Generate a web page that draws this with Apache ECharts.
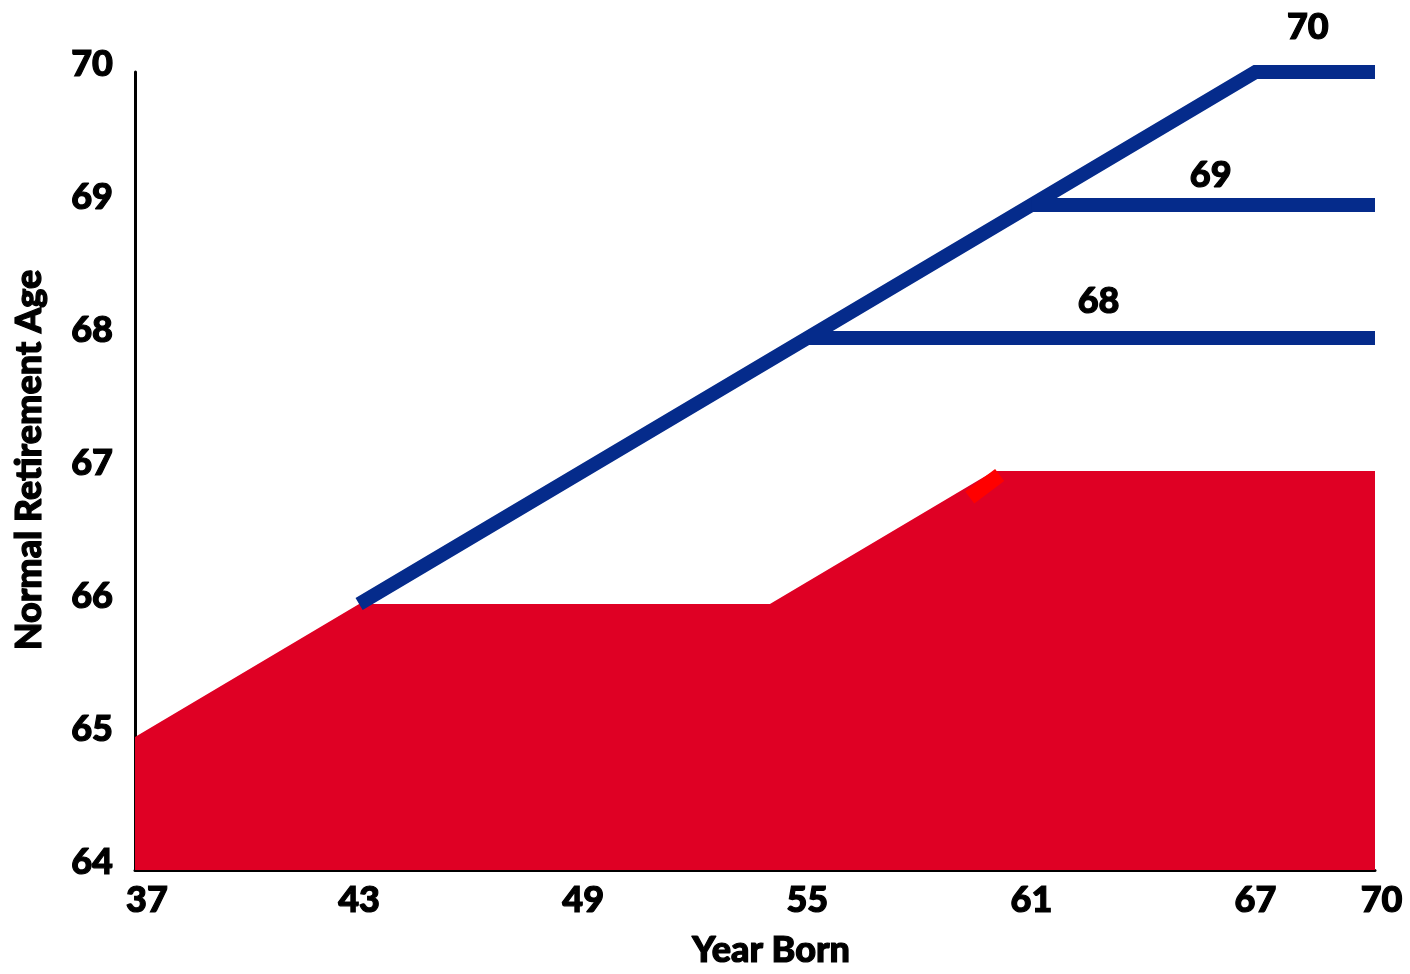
<!DOCTYPE html>
<html>
<head>
<meta charset="utf-8">
<title>Normal Retirement Age by Year Born</title>
<script src="https://cdn.jsdelivr.net/npm/echarts@6/dist/echarts.min.js"></script>
<style>
  html, body { margin: 0; padding: 0; background: #ffffff; }
  #chart { width: 1410px; height: 974px; }
</style>
</head>
<body>
<div id="chart"></div>
<script>
// Axis range (years born, ages)
const yearStart = 37;
const yearEnd = 70.2;
const ageMin = 64;
const ageMax = 70;

// Tick labels
const yearTicks = [37, 43, 49, 55, 61, 67, 70];
const ageTicks = [64, 65, 66, 67, 68, 69, 70];

// Current-law retirement age (filled area)
const currentYears = [37, 43, 54, 60, yearEnd];
const currentAges = [65, 66, 66, 67, 67];

// Short highlighted stroke on the last step of the current schedule
const stepYears = [59.35, 60.15];
const stepAges = [66.8, 66.97];

// Proposed schedule, rising one year of age every six years born
const risingYears = [43, 67, yearEnd];
const risingAges = [66, 70, 70];

// Alternative caps that branch off the rising line
const capLevels = [68, 69];
const capStartYears = [55, 61];

const RED = '#df0024';
const BLUE = '#052b8b';
const FONT = 'Lato';

const pairs = (xs, ys) => xs.map((x, i) => [x, ys[i]]);

// Heavy black lettering used for every text element
const textStyle = {
  color: '#000', fontFamily: FONT, fontWeight: 900, fontSize: 36,
  textBorderColor: '#000', textBorderWidth: 1.2
};

// Where the value label sits along each level line, and how far above it
const levelLabelPlacement = {
  70: { year: 68.4, dy: -45 },
  69: { year: 65.8, dy: -30 },
  68: { year: 62.8, dy: -37 }
};

function levelMark(level) {
  const p = levelLabelPlacement[level];
  return {
    symbol: 'circle',
    symbolSize: 0,
    silent: true,
    label: Object.assign({
      show: true,
      position: 'inside',
      offset: [0, p.dy],
      formatter: String(level)
    }, textStyle),
    data: [{ coord: [p.year, level], value: level }]
  };
}

const series = [
  {
    type: 'line',
    data: pairs(currentYears, currentAges),
    symbol: 'none',
    lineStyle: { width: 0 },
    areaStyle: { color: RED, opacity: 1 },
    z: 1
  },
  {
    type: 'line',
    data: pairs(stepYears, stepAges),
    symbol: 'none',
    lineStyle: { color: '#ff0000', width: 15, cap: 'butt' },
    z: 2
  },
  {
    type: 'line',
    data: pairs(risingYears, risingAges),
    symbol: 'none',
    lineStyle: { color: BLUE, width: 14, cap: 'butt', join: 'miter' },
    markPoint: levelMark(risingAges[risingAges.length - 1]),
    z: 3
  }
];

capLevels.forEach((level, i) => {
  series.push({
    type: 'line',
    data: [[capStartYears[i], level], [yearEnd, level]],
    symbol: 'none',
    lineStyle: { color: BLUE, width: 14, cap: 'butt' },
    markPoint: levelMark(level),
    z: 3
  });
});

const chart = echarts.init(document.getElementById('chart'), null, { renderer: 'canvas' });

chart.setOption({
  animation: false,
  backgroundColor: '#ffffff',
  grid: { left: 135, right: 35, top: 72, bottom: 104, containLabel: false },
  xAxis: {
    type: 'value',
    min: yearStart,
    max: yearEnd,
    name: 'Year Born',
    nameLocation: 'middle',
    nameGap: 62,
    nameTextStyle: Object.assign({ padding: [0, 0, 0, 32] }, textStyle),
    axisLine: { show: true, onZero: false, lineStyle: { color: '#000', width: 3 } },
    axisTick: { show: false },
    splitLine: { show: false },
    axisLabel: Object.assign({
      customValues: yearTicks,
      margin: 12,
      formatter: function (v) {
        if (v === yearTicks[0]) return '{first|' + v + '}';
        if (v === yearTicks[yearTicks.length - 1]) return '{last|' + v + '}';
        return '{n|' + v + '}';
      },
      rich: {
        n: Object.assign({}, textStyle),
        first: Object.assign({ padding: [0, 0, 0, 24] }, textStyle),
        last: Object.assign({ padding: [0, 0, 0, 28] }, textStyle)
      }
    }, textStyle)
  },
  yAxis: {
    type: 'value',
    min: ageMin,
    max: ageMax,
    interval: 1,
    name: 'Normal Retirement Age',
    nameLocation: 'middle',
    nameGap: 88,
    nameRotate: 90,
    nameTextStyle: Object.assign({ padding: [0, 0, 0, 22] }, textStyle),
    axisLine: { show: true, onZero: false, lineStyle: { color: '#000', width: 3 } },
    axisTick: { show: false },
    splitLine: { show: false },
    axisLabel: Object.assign({
      customValues: ageTicks,
      margin: 22,
      formatter: function (v) { return '{n|' + v + '}'; },
      rich: {
        n: Object.assign({ padding: [0, 0, 16, 0] }, textStyle)
      }
    }, textStyle)
  },
  series: series
});
</script>
</body>
</html>
